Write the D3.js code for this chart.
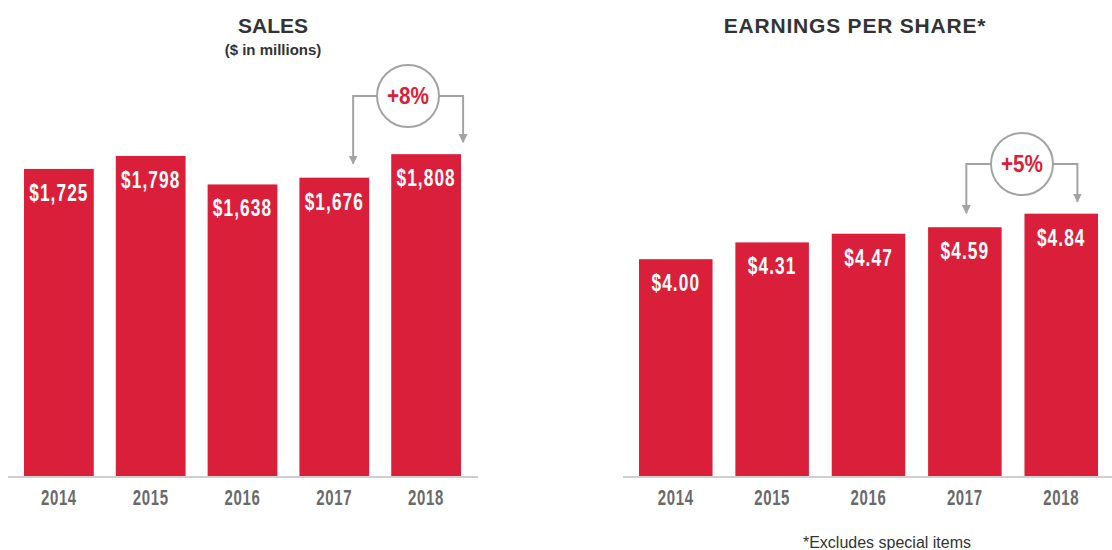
<!DOCTYPE html>
<html>
<head>
<meta charset="utf-8">
<script src="https://cdn.jsdelivr.net/npm/d3@7"></script>
<style>
  body { margin: 0; background: #fff; }
  .title { font-family: "Liberation Sans", Arial, sans-serif; font-weight: bold; fill: #333; }
  .narrow { font-family: "Liberation Sans", Arial, sans-serif; font-weight: bold; }
</style>
</head>
<body>
<div id="chart"></div>
<script>
// data
var years = ["2014", "2015", "2016", "2017", "2018"];
var sales = [1725, 1798, 1638, 1676, 1808];
var salesLabels = ["$1,725", "$1,798", "$1,638", "$1,676", "$1,808"];
var eps = [4.00, 4.31, 4.47, 4.59, 4.84];
var epsLabels = ["$4.00", "$4.31", "$4.47", "$4.59", "$4.84"];

var svgWidth = 1112;
var svgHeight = 550;
var baseY = 476;
var red = "#da1f3a";
var grey = "#a3a3a3";

var svg = d3.select("#chart").append("svg")
  .attr("width", svgWidth)
  .attr("height", svgHeight);

// arrow marker
svg.append("defs").append("marker")
  .attr("id", "arrow")
  .attr("viewBox", "0 0 10 10")
  .attr("refX", 9).attr("refY", 5)
  .attr("markerWidth", 4.5).attr("markerHeight", 4.5)
  .attr("markerUnits", "strokeWidth")
  .attr("orient", "auto")
  .append("path")
  .attr("d", "M0,0 L10,5 L0,10 Z")
  .attr("fill", grey);

function drawChart(opt) {
  var g = svg.append("g");

  var x = d3.scaleBand()
    .domain(years)
    .range(opt.xRange)
    .paddingInner(opt.pad);

  var y = d3.scaleLinear()
    .domain([0, opt.maxVal])
    .range([baseY, baseY - opt.maxPx]);

  // baseline
  g.append("line")
    .attr("x1", opt.xRange[0] - 16)
    .attr("x2", opt.xRange[1] + 17)
    .attr("y1", baseY + 1).attr("y2", baseY + 1)
    .attr("stroke", "#cfcfcf")
    .attr("stroke-width", 2);

  // bars
  g.selectAll("rect")
    .data(opt.values)
    .enter()
    .append("rect")
    .attr("x", (d, i) => x(years[i]))
    .attr("y", d => y(d))
    .attr("width", x.bandwidth())
    .attr("height", d => baseY - y(d))
    .attr("fill", red);

  // value labels (squeezed to look condensed)
  g.selectAll(".val")
    .data(opt.values)
    .enter()
    .append("text")
    .attr("class", "narrow val")
    .attr("transform", (d, i) => `translate(${x(years[i]) + x.bandwidth() / 2}, ${y(d) + 32}) scale(0.72, 1)`)
    .attr("text-anchor", "middle")
    .style("font-size", "24px")
    .style("letter-spacing", "1.5px")
    .attr("fill", "#fff")
    .text((d, i) => opt.labels[i]);

  // year labels
  var xAxis = d3.axisBottom(x).tickSize(0).tickPadding(0);
  var axisG = g.append("g")
    .attr("transform", `translate(0, ${baseY})`)
    .call(xAxis);
  axisG.select(".domain").remove();
  axisG.selectAll("text")
    .attr("class", "narrow")
    .attr("dy", null)
    .attr("y", null)
    .attr("transform", "translate(0, 29) scale(0.68, 1)")
    .style("font-size", "22px")
    .style("letter-spacing", "1px")
    .attr("fill", "#6a6a6a");

  // change annotation
  var a = opt.ann;
  var x1 = x(years[3]) + x.bandwidth() * a.f1;
  var x2 = x(years[4]) + x.bandwidth() * a.f2;
  var tip1 = y(opt.values[3]) - 14;
  var tip2 = y(opt.values[4]) - 12;
  var r = 31;

  g.append("path")
    .attr("d", `M${a.cx - r},${a.cy} H${x1} V${tip1}`)
    .attr("fill", "none")
    .attr("stroke", grey)
    .attr("stroke-width", 2)
    .attr("marker-end", "url(#arrow)");

  g.append("path")
    .attr("d", `M${a.cx + r},${a.cy} H${x2} V${tip2}`)
    .attr("fill", "none")
    .attr("stroke", grey)
    .attr("stroke-width", 2)
    .attr("marker-end", "url(#arrow)");

  g.append("circle")
    .attr("cx", a.cx).attr("cy", a.cy).attr("r", r)
    .attr("fill", "#fff")
    .attr("stroke", grey)
    .attr("stroke-width", 2);

  g.append("text")
    .attr("class", "narrow")
    .attr("transform", `translate(${a.cx}, ${a.cy + 8}) scale(0.9, 1)`)
    .attr("text-anchor", "middle")
    .style("font-size", "23px")
    .attr("fill", red)
    .text(a.text);

  // title
  g.append("text")
    .attr("class", "title")
    .attr("x", opt.titleX).attr("y", 33)
    .attr("text-anchor", "middle")
    .style("font-size", "21px")
    .style("letter-spacing", opt.spacing)
    .text(opt.title);
}

drawChart({
  values: sales, labels: salesLabels,
  xRange: [24, 461], pad: 0.24,
  maxVal: 2000, maxPx: 356,
  ann: { cx: 408, cy: 96, f1: 0.77, f2: 1.03, text: "+8%" },
  title: "SALES", titleX: 273, spacing: "0px"
});

drawChart({
  values: eps, labels: epsLabels,
  xRange: [639, 1098], pad: 0.237,
  maxVal: 5, maxPx: 271,
  ann: { cx: 1022, cy: 164, f1: 0.52, f2: 0.72, text: "+5%" },
  title: "EARNINGS PER SHARE*", titleX: 855, spacing: "0.8px"
});

// subtitle and footnote
svg.append("text")
  .attr("class", "title")
  .attr("x", 273).attr("y", 55)
  .attr("text-anchor", "middle")
  .style("font-size", "15px")
  .text("($ in millions)");

svg.append("text")
  .attr("class", "title")
  .attr("x", 887).attr("y", 548)
  .attr("text-anchor", "middle")
  .style("font-size", "16px")
  .style("font-weight", "normal")
  .attr("fill", "#444")
  .text("*Excludes special items");
</script>
</body>
</html>
